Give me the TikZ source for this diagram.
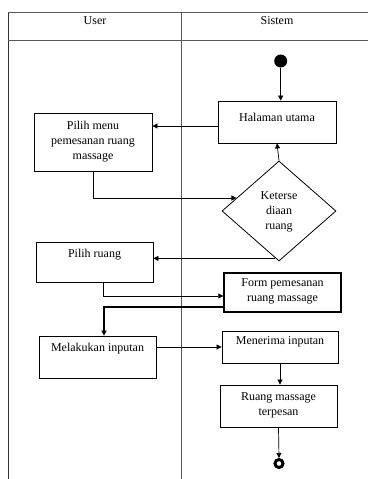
\documentclass[tikz,border=0pt]{standalone}
\usepackage{fontspec}
\setmainfont{Liberation Serif}
\usetikzlibrary{arrows.meta,shapes.geometric,calc}
\begin{document}
\begin{tikzpicture}[x=1pt,y=-1pt,
  font=\fontsize{12}{15}\selectfont,
  box/.style={draw, line width=0.8pt, inner sep=0pt},
  txt/.style={align=center, inner sep=0pt},
  flow/.style={draw, line width=0.7pt, -{Triangle[length=5pt,width=5pt]}},
  frame/.style={draw, line width=0.9pt, gray!70!black}]
\useasboundingbox (0,0) rectangle (368,479);
% swimlane frame
\draw[frame, line width=1.4pt, black!80] (8.5,12) -- (8.5,479);
\draw[frame] (8,12) -- (368,12);
\draw[frame] (8,40.7) -- (368,40.7);
\draw[frame, line width=0.7pt] (181.7,12) -- (181.7,479);
\node[txt] (huser) at (95,21) {User};
\node[txt] (hsis) at (277,21) {Sistem};
% nodes
\node[circle, fill=black, minimum size=13pt, inner sep=0pt] (start) at (280.7,61) {};
\node[box, minimum width=118pt, minimum height=42pt] (hal) at (277,122) {};
\node[txt] (thal) at (277,117) {Halaman utama};
\node[box, minimum width=118pt, minimum height=58pt] (pm) at (93,142) {};
\node[txt] (tpm) at (93,142) {Pilih menu\\pemesanan ruang\\massage};
\node[diamond, draw, line width=0.8pt, inner sep=0pt, minimum width=114pt, minimum height=100pt] (dia) at (279,211) {};
\node[txt] (tdia) at (279,212) {Keterse\\diaan\\ruang};
\node[box, minimum width=117pt, minimum height=40pt] (pr) at (94.5,262) {};
\node[txt] (tpr) at (94.5,255) {Pilih ruang};
\node[box, line width=1.4pt, minimum width=117pt, minimum height=39pt] (form) at (282.5,292.5) {};
\node[txt] (tform) at (282.5,291.5) {Form pemesanan\\ruang massage};
\node[box, minimum width=117pt, minimum height=42pt] (mel) at (97.5,357) {};
\node[txt] (tmel) at (97.5,349) {Melakukan inputan};
\node[box, minimum width=116pt, minimum height=32pt] (men) at (280,347) {};
\node[txt] (tmen) at (280,342) {Menerima inputan};
\node[box, minimum width=117pt, minimum height=42pt] (rms) at (278.5,406) {};
\node[txt] (trms) at (278.5,405) {Ruang massage\\terpesan};
\node[circle, draw, line width=3pt, minimum size=8pt, inner sep=0pt] (end) at (279,463.5) {};
% connectors
\draw[flow] (start) -- (start |- hal.north);
\coordinate (a1) at ($(hal.west)+(0,4)$);
\draw[flow] (a1) -- (pm.east |- a1);
\draw[flow] (pm.south) |- (dia.163);
\draw[flow] (dia.north) -- (hal.south);
\coordinate (a2) at ($(dia.south)+(-4,-3)$);
\draw[flow] (a2) -- (pr.east |- a2);
\draw[flow] ($(pr.south)+(8.5,0)$) |- ($(form.west)+(0,3.5)$);
\draw[flow, line width=1.4pt] ($(form.west)+(0,14.5)$) -| ($(mel.north)+(6.5,0)$);
\coordinate (a3) at ($(mel.east)+(0,-10)$);
\draw[flow] (a3) -- (men.west |- a3);
\draw[flow] (men.south) -- (men.south |- rms.north);
\draw[flow] (rms.south) -- (end.north);
\end{tikzpicture}
\end{document}
